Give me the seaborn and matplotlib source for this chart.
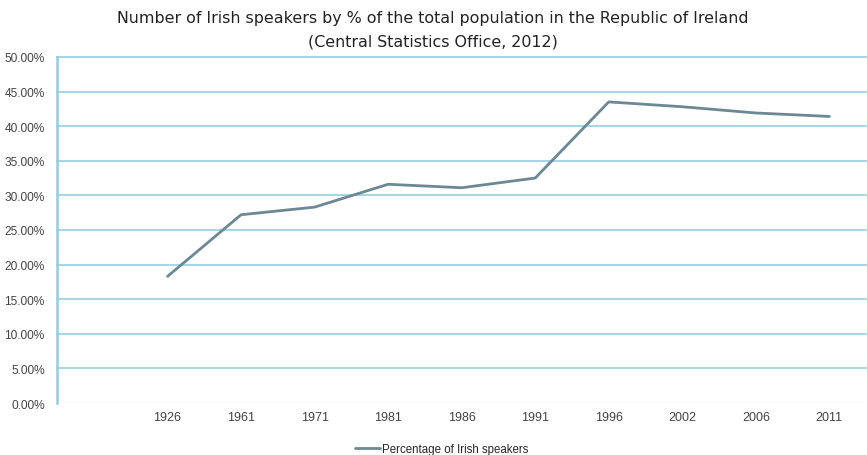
import matplotlib
matplotlib.use("Agg")
import matplotlib.pyplot as plt
import seaborn as sns
import pandas as pd

years = ["1926", "1961", "1971", "1981", "1986", "1991", "1996", "2002", "2006", "2011"]
pct = [18.3, 27.2, 28.3, 31.6, 31.1, 32.5, 43.5, 42.8, 41.9, 41.4]
yticks = [0, 5, 10, 15, 20, 25, 30, 35, 40, 45, 50]

sns.set_style("white")
plt.rcParams['font.family'] = ['Liberation Sans', 'DejaVu Sans']

# first category slot is empty in the original chart
df = pd.DataFrame({"pos": range(1, len(years) + 1), "pct": pct})

fig = plt.figure(figsize=(8.67, 4.56), dpi=100)
ax = fig.add_axes([0.066, 0.114, 0.933, 0.759])

for y in yticks[1:]:
    ax.axhline(y, color="#a9d6e2", lw=1.5, zorder=0, clip_on=False)
ax.axhline(0, color="#f3e3e6", lw=1.0, zorder=0)

sns.lineplot(data=df, x="pos", y="pct", color="#6c8894", lw=2.0,
             label="Percentage of Irish speakers", ax=ax)

ax.set_xlim(-0.5, len(years) + 0.5)
ax.set_ylim(0, 50)
ax.set_xticks(df["pos"])
ax.set_xticklabels(years, fontsize=9, color="#444444")
ax.set_yticks(yticks)
ax.set_yticklabels([f"{v:.2f}%" for v in yticks], fontsize=8.6, color="#444444")
ax.tick_params(axis="x", length=0, pad=6)
ax.tick_params(axis="y", length=0, pad=9)
ax.set_xlabel("")
ax.set_ylabel("")
for s in ["top", "right", "bottom"]:
    ax.spines[s].set_visible(False)
ax.spines["left"].set_color("#94cddc")
ax.spines["left"].set_linewidth(1.8)

ax.legend(loc="upper center", bbox_to_anchor=(0.475, -0.085), frameon=False,
          fontsize=8.3, handlelength=2.2, handletextpad=0.1)

fig.suptitle("Number of Irish speakers by % of the total population in the Republic of Ireland\n"
             "(Central Statistics Office, 2012)",
             x=0.499, y=0.975, fontsize=11.4, family=['DejaVu Sans'], color="#222222",
             linespacing=1.7)

fig.savefig("out.png", dpi=100)
